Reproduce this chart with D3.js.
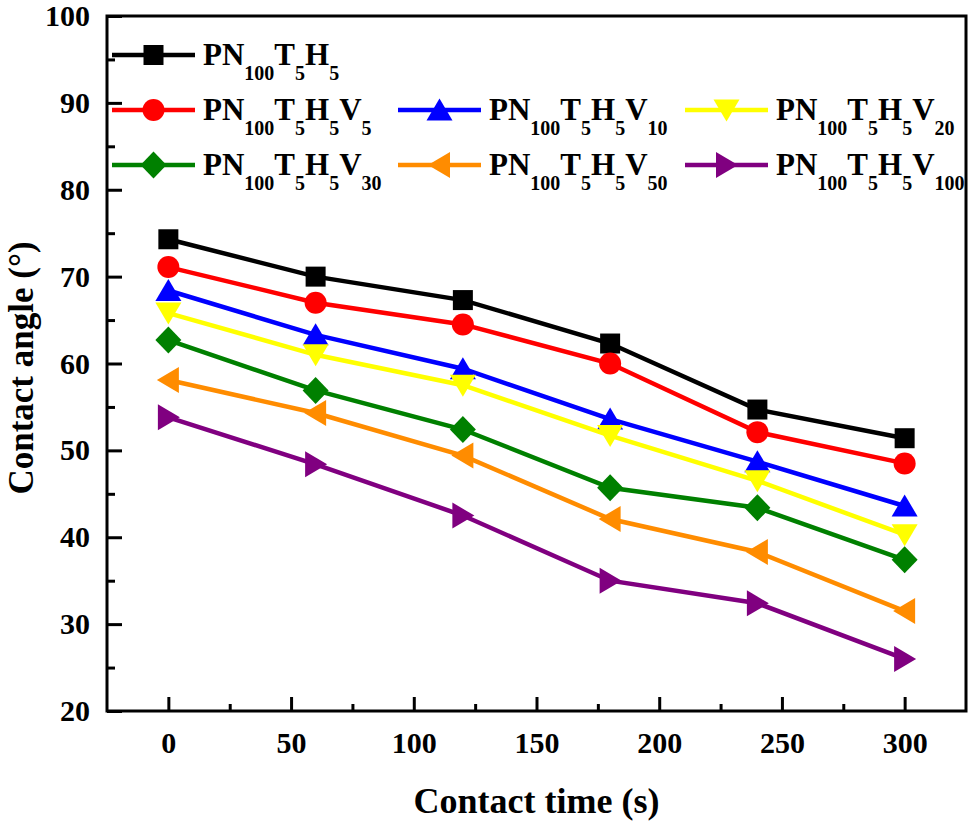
<!DOCTYPE html>
<html>
<head>
<meta charset="utf-8">
<script src="https://cdn.jsdelivr.net/npm/d3@7"></script>
<style>
  body { margin: 0; background: #fff; }
  svg text { font-family: "Liberation Serif", "Times New Roman", serif; font-weight: bold; }
</style>
</head>
<body>
<div id="chart"></div>
<script>
// contact time (s)
const times = [0, 60, 120, 180, 240, 300];

// contact angle (deg) for each sample
const base = [74.3, 70.0, 67.3, 62.3, 54.7, 51.4];
const v5 = [71.1, 67.0, 64.5, 60.0, 52.1, 48.5];
const v10 = [68.4, 63.3, 59.4, 53.6, 48.7, 43.6];
const v20 = [65.8, 61.0, 57.5, 51.7, 46.5, 40.3];
const v30 = [62.7, 56.9, 52.4, 45.7, 43.4, 37.4];
const v50 = [58.1, 54.3, 49.4, 42.1, 38.3, 31.5];
const v100 = [53.8, 48.4, 42.5, 35.0, 32.4, 26.0];

// legend labels: [text, subscript] pieces
const labels = [
  [["PN", ""], ["", "100"], ["T", ""], ["", "5"], ["H", ""], ["", "5"]],
  [["PN", ""], ["", "100"], ["T", ""], ["", "5"], ["H", ""], ["", "5"], ["V", ""], ["", "5"]],
  [["PN", ""], ["", "100"], ["T", ""], ["", "5"], ["H", ""], ["", "5"], ["V", ""], ["", "10"]],
  [["PN", ""], ["", "100"], ["T", ""], ["", "5"], ["H", ""], ["", "5"], ["V", ""], ["", "20"]],
  [["PN", ""], ["", "100"], ["T", ""], ["", "5"], ["H", ""], ["", "5"], ["V", ""], ["", "30"]],
  [["PN", ""], ["", "100"], ["T", ""], ["", "5"], ["H", ""], ["", "5"], ["V", ""], ["", "50"]],
  [["PN", ""], ["", "100"], ["T", ""], ["", "5"], ["H", ""], ["", "5"], ["V", ""], ["", "100"]]
];

const series = [
  { values: base, color: "#000000", shape: "square" },
  { values: v5, color: "#ff0000", shape: "circle" },
  { values: v10, color: "#0000ff", shape: "up" },
  { values: v20, color: "#ffff00", shape: "down" },
  { values: v30, color: "#008000", shape: "diamond" },
  { values: v50, color: "#ff8c00", shape: "left" },
  { values: v100, color: "#800080", shape: "right" }
];

const width = 975;
const height = 823;
const margin = { top: 16, right: 9, bottom: 112, left: 107 };

const xScale = d3.scaleLinear()
  .domain([-25, 325])
  .range([margin.left, width - margin.right]);

const yScale = d3.scaleLinear()
  .domain([20, 100])
  .range([height - margin.bottom, margin.top]);

// marker outline centred on 0,0
function markerPath(shape) {
  switch (shape) {
    case "square": return "M-10,-10H10V10H-10Z";
    case "circle": return d3.symbol(d3.symbolCircle, Math.PI * 11 * 11)();
    case "up": return "M0,-11.5L13,10.5L-13,10.5Z";
    case "down": return "M0,11.5L13,-10.5L-13,-10.5Z";
    case "left": return "M-11.5,0L10.5,-13L10.5,13Z";
    case "right": return "M11.5,0L-10.5,-13L-10.5,13Z";
    case "diamond": return "M0,-13.5L13,0L0,13.5L-13,0Z";
  }
}

const svg = d3.select("#chart")
  .append("svg")
  .attr("width", width)
  .attr("height", height);

// Axes with inward ticks
const xAxis = svg.append("g")
  .attr("transform", `translate(0, ${yScale(20)})`)
  .call(d3.axisBottom(xScale).tickValues(d3.range(0, 301, 50)).tickSize(-14).tickPadding(21));
const xMinor = svg.append("g")
  .attr("transform", `translate(0, ${yScale(20)})`)
  .call(d3.axisBottom(xScale).tickValues(d3.range(25, 301, 50)).tickSize(-7).tickFormat(""));

const yAxis = svg.append("g")
  .attr("transform", `translate(${xScale(-25)}, 0)`)
  .call(d3.axisLeft(yScale).tickValues(d3.range(20, 101, 10)).tickSize(-15).tickPadding(17));
const yMinor = svg.append("g")
  .attr("transform", `translate(${xScale(-25)}, 0)`)
  .call(d3.axisLeft(yScale).tickValues(d3.range(25, 100, 10)).tickSize(-8).tickFormat(""));

[xAxis, xMinor, yAxis, yMinor].forEach((g) => {
  g.select(".domain").remove();
  g.selectAll("line").attr("stroke", "#000").attr("stroke-width", 3);
  g.selectAll("text").attr("font-size", 30).attr("fill", "#000");
});

// frame
svg.append("rect")
  .attr("x", xScale(-25))
  .attr("y", yScale(100))
  .attr("width", xScale(325) - xScale(-25))
  .attr("height", yScale(20) - yScale(100))
  .attr("fill", "none")
  .attr("stroke", "#000")
  .attr("stroke-width", 3);

// Axis titles
svg.append("text")
  .attr("x", (xScale(-25) + xScale(325)) / 2)
  .attr("y", 813)
  .attr("text-anchor", "middle")
  .attr("font-size", 36)
  .text("Contact time (s)");

svg.append("text")
  .attr("transform", "translate(33, 368) rotate(-90)")
  .attr("text-anchor", "middle")
  .attr("font-size", 35)
  .text("Contact angle (°)");

// Lines and markers
const line = d3.line()
  .x((d, i) => xScale(times[i]))
  .y((d) => yScale(d));

series.forEach((s) => {
  svg.append("path")
    .datum(s.values)
    .attr("d", line)
    .attr("fill", "none")
    .attr("stroke", s.color)
    .attr("stroke-width", 4.5);

  svg.append("g")
    .selectAll("path")
    .data(s.values)
    .enter()
    .append("path")
    .attr("d", markerPath(s.shape))
    .attr("transform", (d, i) => `translate(${xScale(times[i])}, ${yScale(d)})`)
    .attr("fill", s.color);
});

// Legend
const legendPos = [
  [112, 55], [112, 110], [398, 110], [685, 110],
  [112, 165], [398, 165], [685, 165]
];

series.forEach((s, i) => {
  const [lx, ly] = legendPos[i];
  const g = svg.append("g").attr("transform", `translate(${lx}, ${ly})`);

  g.append("line")
    .attr("x1", 0).attr("x2", 83)
    .attr("y1", 0).attr("y2", 0)
    .attr("stroke", s.color)
    .attr("stroke-width", 4.5);

  g.append("path")
    .attr("d", markerPath(s.shape))
    .attr("transform", "translate(41.5, 0)")
    .attr("fill", s.color);

  const t = g.append("text")
    .attr("x", 91)
    .attr("y", 10)
    .attr("font-size", 31);

  labels[i].forEach(([main, sub]) => {
    if (main) {
      t.append("tspan").attr("y", 10).attr("font-size", 31).text(main);
    } else {
      t.append("tspan").attr("y", 25).attr("font-size", 20).text(sub);
    }
  });
});
</script>
</body>
</html>
